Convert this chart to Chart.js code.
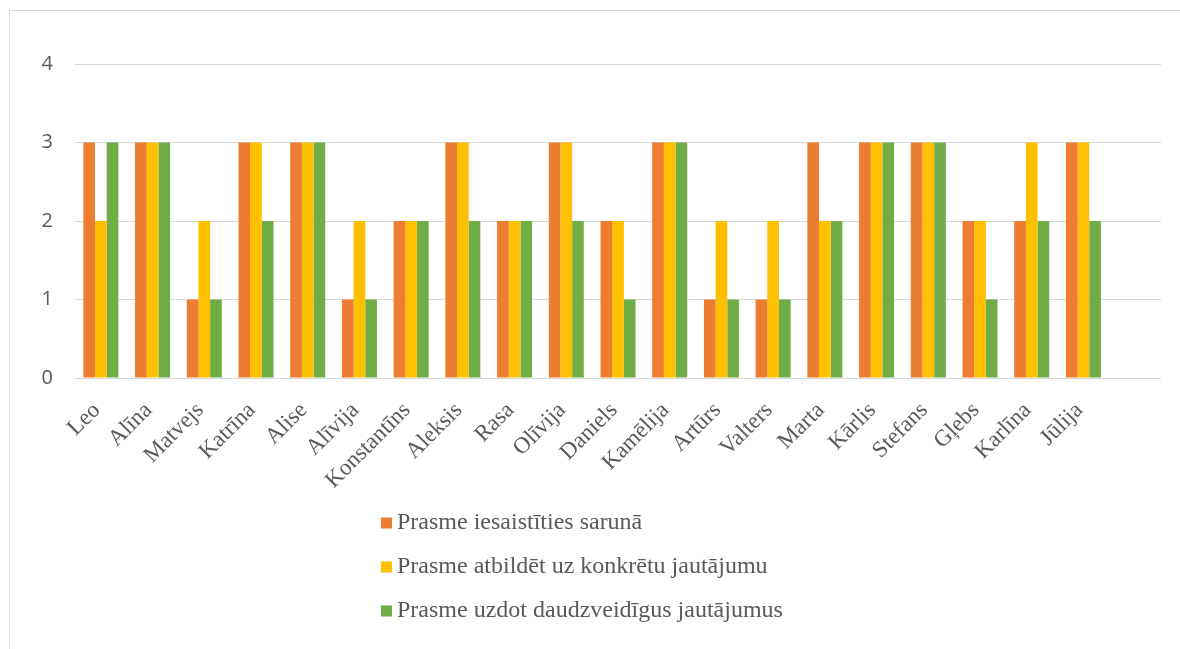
<!DOCTYPE html>
<html lang="lv">
<head>
    <meta charset="UTF-8">
    <title>Prasmes</title>
    <style>
        html, body { margin: 0; padding: 0; background: #fff; overflow: hidden; }
        .frame { position: absolute; left: 9px; top: 10px; width: 1300px; height: 800px; border: 1px solid #d9d9d9; }
        #chart { position: absolute; left: 0; top: 0; }
    </style>
</head>
<body>
<div class="frame"></div>
<canvas id="chart" width="1180" height="649"></canvas>

<script src="https://cdn.jsdelivr.net/npm/chart.js"></script>
<script>
    // Data (the source table has one empty row at the end)
    const names = ['Leo', 'Alīna', 'Matvejs', 'Katrīna', 'Alise', 'Alīvija', 'Konstantīns', 'Aleksis', 'Rasa', 'Olīvija',
                   'Daniels', 'Kamēlija', 'Artūrs', 'Valters', 'Marta', 'Kārlis', 'Stefans', 'Gļebs', 'Karlīna', 'Jūlija', ''];
    const seriesNames = ['Prasme iesaistīties sarunā', 'Prasme atbildēt uz konkrētu jautājumu', 'Prasme uzdot daudzveidīgus jautājumus'];
    const conversation = [3, 3, 1, 3, 3, 1, 2, 3, 2, 3, 2, 3, 1, 1, 3, 3, 3, 2, 2, 3, null];
    const answering    = [2, 3, 2, 3, 3, 2, 2, 3, 2, 3, 2, 3, 2, 2, 2, 3, 3, 2, 3, 3, null];
    const asking       = [3, 3, 1, 2, 3, 1, 2, 2, 2, 2, 1, 3, 1, 1, 2, 3, 3, 1, 2, 2, null];
    const yTicks = [0, 1, 2, 3, 4];
    const colors = ['#ED7D31', '#FFC000', '#70AD47'];

    const textColor = '#595959';

    // legend drawn as a vertical list under the axis, like the original
    const listLegend = {
        id: 'listLegend',
        afterDraw(chart) {
            const ctx = chart.ctx;
            const top = chart.chartArea.bottom + 145;
            ctx.save();
            ctx.font = '24px "Liberation Serif", "Times New Roman", serif';
            ctx.textBaseline = 'middle';
            ctx.textAlign = 'left';
            chart.data.datasets.forEach((ds, i) => {
                const y = top + i * 44;
                ctx.fillStyle = ds.backgroundColor;
                ctx.fillRect(381, y - 5.5, 11, 11);
                ctx.fillStyle = textColor;
                ctx.fillText(ds.label, 397, y);
            });
            ctx.restore();
        }
    };

    const datasets = [conversation, answering, asking].map((vals, i) => ({
        label: seriesNames[i],
        data: vals,
        backgroundColor: colors[i],
        barPercentage: 1,
        categoryPercentage: 0.677
    }));

    new Chart(document.getElementById('chart'), {
        type: 'bar',
        data: { labels: names, datasets: datasets },
        options: {
            responsive: false,
            animation: false,
            devicePixelRatio: 1,
            layout: { padding: { top: 64, right: 19, left: 0, bottom: 141 } },
            plugins: {
                legend: { display: false },
                tooltip: { enabled: false }
            },
            scales: {
                x: {
                    grid: { display: false },
                    border: { display: false },
                    ticks: {
                        autoSkip: false,
                        minRotation: 45,
                        maxRotation: 45,
                        padding: 11,
                        labelOffset: -4,
                        color: textColor,
                        font: { family: '"Liberation Serif", "Times New Roman", serif', size: 23 }
                    },
                    afterFit(scale) { scale.height = 130; }
                },
                y: {
                    min: yTicks[0],
                    max: yTicks[yTicks.length - 1],
                    afterBuildTicks(scale) { scale.ticks = yTicks.map(v => ({ value: v })); },
                    grid: { color: '#d9d9d9', lineWidth: 1, drawTicks: false },
                    border: { display: false },
                    ticks: {
                        padding: 22,
                        color: textColor,
                        font: { family: '"Open Sans", "Liberation Sans", sans-serif', size: 20 }
                    },
                    afterFit(scale) { scale.width = 75; }
                }
            }
        },
        plugins: [listLegend]
    });
</script>
</body>
</html>
